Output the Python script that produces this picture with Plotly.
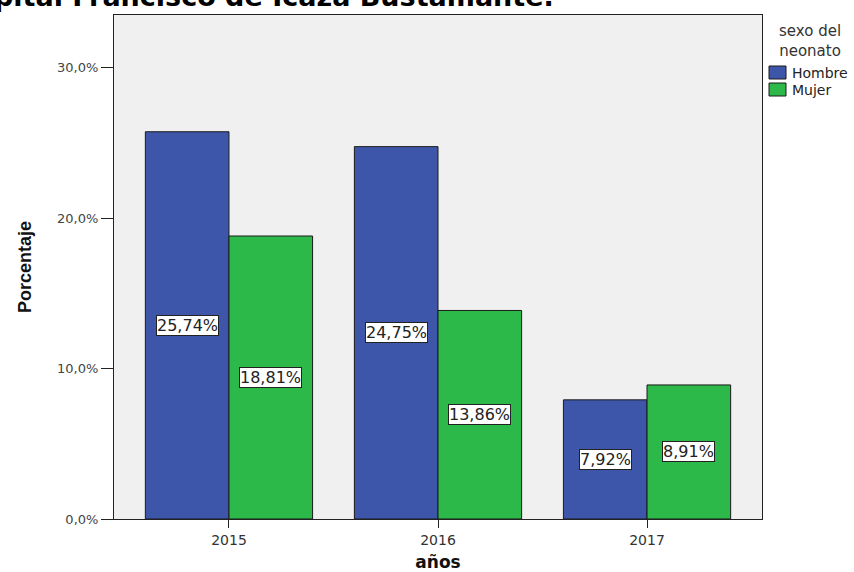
import plotly.graph_objects as go

years = ["2015", "2016", "2017"]
hombre = [25.74, 24.75, 7.92]
mujer = [18.81, 13.86, 8.91]
series_names = ["Hombre", "Mujer"]
colors = ["#3D56AA", "#2DB84A"]
y_ticks = [0, 10, 20, 30]
legend_title = "sexo del<br>neonato"
chart_title = "pital Francisco de Icaza Bustamante."

# layout geometry (pixels)
W, H = 854, 572
L, R, T, B = 114, 92, 15, 53
PW, PH = W - L - R, H - T - B


def px(xp):
    return (xp - L) / PW


def py(yp):
    return (H - B - yp) / PH


BASE = "DejaVu Sans, Verdana, Arial"

fig = go.Figure()
for name, vals, col in zip(series_names, [hombre, mujer], colors):
    fig.add_trace(go.Bar(
        x=years, y=vals, name=name,
        marker=dict(color=col, line=dict(color="#1a1a1a", width=1)),
        offsetgroup=name, showlegend=False, hoverinfo="skip",
    ))

# value labels in white boxes at bar mid-height
for vals, off in [(hombre, -0.2), (mujer, 0.2)]:
    for j, v in enumerate(vals):
        fig.add_annotation(
            x=j + off, y=v / 2, xref="x", yref="y",
            text=f"{v:.2f}%".replace(".", ","), showarrow=False,
            font=dict(family=BASE, size=16, color="#222"),
            bgcolor="white", bordercolor="#222", borderwidth=1, borderpad=0,
        )

# title (clipped at the top-left like the reference)
fig.add_annotation(
    x=px(556), y=py(14), xref="paper", yref="paper", text=chart_title,
    showarrow=False, xanchor="right", yanchor="bottom",
    font=dict(family="DejaVu Sans, Arial", size=27, color="black", weight="bold"),
)

# manual legend
fig.add_annotation(
    x=px(810), y=py(41), xref="paper", yref="paper", text=legend_title,
    showarrow=False, xanchor="center", yanchor="middle", align="center",
    font=dict(family=BASE, size=15, color="#333"),
)
for k, (name, col) in enumerate(zip(series_names, colors)):
    y0 = 66 + k * 17
    fig.add_shape(type="rect", xref="paper", yref="paper",
                  x0=px(769), x1=px(786), y0=py(y0), y1=py(y0 + 13),
                  fillcolor=col, line=dict(color="#1a1a1a", width=1))
    fig.add_annotation(
        x=px(790), y=py(y0 + 6.5), xref="paper", yref="paper", text=name,
        showarrow=False, xanchor="left", yanchor="middle",
        font=dict(family=BASE, size=14, color="#222"),
    )

fig.update_layout(
    width=W, height=H,
    margin=dict(l=L, r=R, t=T, b=B, autoexpand=False),
    paper_bgcolor="white", plot_bgcolor="#F0F0F0",
    barmode="group", bargap=0.2, bargroupgap=0,
    font=dict(family=BASE, size=13, color="#333"),
    showlegend=False,
)
fig.update_xaxes(
    type="category", range=[-0.55, 2.55], showline=True, linecolor="#222", linewidth=1,
    mirror=True, ticks="outside", ticklen=8, tickcolor="#222",
    tickfont=dict(family=BASE, size=14, color="#333"),
    title=dict(text="<b>años</b>", font=dict(family=BASE, size=17, color="#111"), standoff=17),
)
fig.update_yaxes(
    range=[0, 33.5], tickvals=y_ticks,
    ticktext=[f"{t:.1f}%".replace(".", ",") for t in y_ticks],
    showline=True, linecolor="#222", linewidth=1, mirror=True, ticks="outside", ticklen=12,
    tickcolor="#222", showgrid=False, zeroline=False,
    tickfont=dict(family=BASE, size=13, color="#444"),
    title=dict(text="<b>Porcentaje</b>", font=dict(family="Liberation Sans, Arial", size=18, color="#111"),
               standoff=20),
)
fig.write_html(
    "out.html",
    config={"displayModeBar": False},
    post_script="document.body.style.margin='0';document.body.style.overflow='hidden';",
)
